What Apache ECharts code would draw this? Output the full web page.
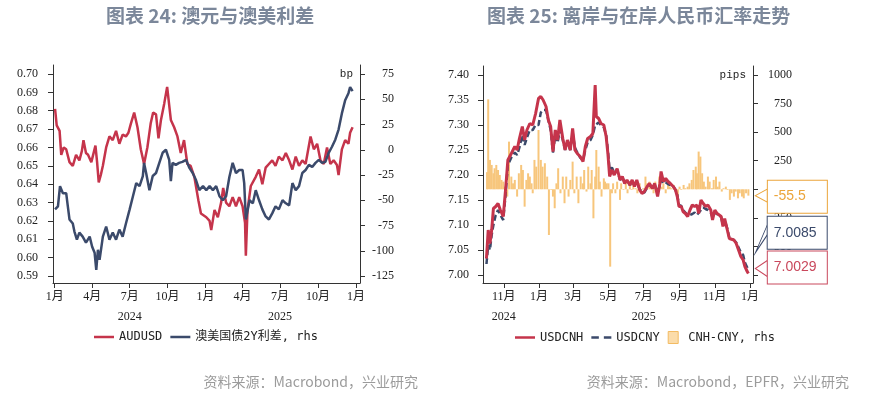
<!DOCTYPE html>
<html>
<head>
<meta charset="utf-8">
<script src="https://cdn.jsdelivr.net/npm/echarts@6/dist/echarts.min.js"></script>
<style>
html,body{margin:0;padding:0;background:#fff}
#main{width:870px;height:396px}
</style>
</head>
<body>
<div id="main"></div>
<script>
// 图表24：澳元与澳美利差
var audDates = ['2024-01-02','2024-01-06','2024-01-13','2024-01-17','2024-01-23','2024-01-29','2024-02-06','2024-02-14','2024-02-22','2024-03-01',
  '2024-03-07','2024-03-11','2024-03-17','2024-03-22','2024-03-30','2024-04-09','2024-04-13','2024-04-17','2024-04-22','2024-04-27',
  '2024-05-05','2024-05-13','2024-05-21','2024-05-29','2024-06-06','2024-06-14','2024-06-22','2024-06-28','2024-07-04','2024-07-12',
  '2024-07-20','2024-07-28','2024-08-05','2024-08-13','2024-08-21','2024-08-27','2024-09-03','2024-09-09','2024-09-15','2024-09-23',
  '2024-09-30','2024-10-09','2024-10-17','2024-10-25','2024-11-02','2024-11-10','2024-11-18','2024-11-26','2024-12-05','2024-12-15',
  '2024-12-21','2025-01-03','2025-01-11','2025-01-15','2025-01-23','2025-01-31','2025-02-08','2025-02-13','2025-02-20','2025-02-28',
  '2025-03-08','2025-03-16','2025-03-24','2025-04-01','2025-04-07','2025-04-09','2025-04-13','2025-04-21','2025-05-03','2025-05-11',
  '2025-05-19','2025-05-27','2025-06-04','2025-06-12','2025-06-20','2025-06-28','2025-07-07','2025-07-15','2025-07-23','2025-07-31',
  '2025-08-08','2025-08-16','2025-08-24','2025-09-01','2025-09-13','2025-09-21','2025-09-29','2025-10-07','2025-10-15','2025-10-23',
  '2025-10-31','2025-11-08','2025-11-16','2025-11-20','2025-11-28','2025-12-06','2025-12-14','2025-12-18','2025-12-24'];
var audusd = [0.681,0.672,0.669,0.656,0.660,0.659,0.652,0.650,0.656,0.653,
  0.658,0.664,0.657,0.656,0.652,0.661,0.652,0.641,0.645,0.650,
  0.660,0.666,0.664,0.669,0.662,0.667,0.666,0.668,0.673,0.679,
  0.671,0.659,0.651,0.660,0.673,0.679,0.678,0.665,0.675,0.684,
  0.693,0.675,0.671,0.666,0.657,0.664,0.651,0.650,0.644,0.631,
  0.624,0.622,0.620,0.615,0.626,0.622,0.630,0.638,0.630,0.628,
  0.633,0.628,0.633,0.628,0.619,0.601,0.626,0.639,0.644,0.648,
  0.640,0.649,0.651,0.653,0.650,0.655,0.653,0.657,0.653,0.648,
  0.655,0.650,0.653,0.651,0.666,0.659,0.662,0.653,0.651,0.660,
  0.651,0.653,0.6505,0.645,0.659,0.664,0.662,0.668,0.671];

var sprDates = ['2024-01-02','2024-01-09','2024-01-14','2024-01-21','2024-01-29','2024-02-02','2024-02-06','2024-02-14','2024-02-18','2024-02-24',
  '2024-03-01','2024-03-09','2024-03-17','2024-03-26','2024-04-01','2024-04-07','2024-04-11','2024-04-15','2024-04-19','2024-04-27',
  '2024-05-05','2024-05-13','2024-05-21','2024-05-29','2024-06-06','2024-06-14','2024-06-22','2024-07-01','2024-07-09','2024-07-17',
  '2024-07-25','2024-08-02','2024-08-05','2024-08-10','2024-08-18','2024-08-26','2024-09-03','2024-09-11','2024-09-19','2024-09-27',
  '2024-10-05','2024-10-09','2024-10-13','2024-10-21','2024-10-29','2024-11-06','2024-11-15','2024-11-23','2024-12-01','2024-12-09',
  '2024-12-17','2024-12-26','2025-01-03','2025-01-11','2025-01-19','2025-01-27','2025-02-04','2025-02-12','2025-02-20','2025-02-28',
  '2025-03-08','2025-03-16','2025-03-24','2025-04-01','2025-04-05','2025-04-09','2025-04-18','2025-04-26','2025-05-03','2025-05-11',
  '2025-05-19','2025-05-27','2025-06-04','2025-06-12','2025-06-20','2025-06-28','2025-07-07','2025-07-15','2025-07-23','2025-07-31',
  '2025-08-08','2025-08-16','2025-08-24','2025-09-01','2025-09-09','2025-09-17','2025-09-25','2025-10-03','2025-10-11','2025-10-19',
  '2025-10-27','2025-11-04','2025-11-12','2025-11-20','2025-11-28','2025-12-06','2025-12-14','2025-12-18','2025-12-24'];
var spread = [-59,-56,-36,-43,-43,-56,-69,-73,-81,-89,
  -82,-86,-92,-86,-96,-102,-119,-99,-109,-86,
  -76,-89,-82,-89,-79,-86,-73,-59,-46,-33,
  -36,-26,-13,-23,-40,-26,-23,-13,-3,0,
  -10,-31,-13,-15,-13,-12,-10,-18,-23,-30,
  -40,-36,-40,-36,-40,-36,-46,-50,-46,-27,
  -13,-23,-20,-20,-33,-69,-50,-53,-40,-50,
  -59,-66,-69,-63,-56,-59,-50,-53,-55,-33,
  -40,-36,-23,-20,-15,-17,-13,-10,-13,-12,
  -3,3,10,20,36,49,56,62,58];

// 图表25：离岸与在岸人民币汇率
var fxDates = ['2024-10-02','2024-10-05','2024-10-08','2024-10-11','2024-10-14','2024-10-18','2024-10-22','2024-10-26','2024-10-31',
  '2024-11-04','2024-11-08','2024-11-14','2024-11-20','2024-11-24','2024-11-28',
  '2024-12-03','2024-12-07','2024-12-11','2024-12-16','2024-12-21','2024-12-26','2024-12-31',
  '2025-01-04','2025-01-08','2025-01-13','2025-01-17','2025-01-21','2025-01-25','2025-01-29',
  '2025-02-02','2025-02-06','2025-02-11','2025-02-15','2025-02-19','2025-02-24','2025-02-28',
  '2025-03-04','2025-03-08','2025-03-13','2025-03-18','2025-03-22','2025-03-26','2025-03-31',
  '2025-04-04','2025-04-08','2025-04-10','2025-04-14','2025-04-18','2025-04-23','2025-04-27','2025-04-30',
  '2025-05-03','2025-05-07','2025-05-11','2025-05-16','2025-05-21','2025-05-25','2025-05-29',
  '2025-06-02','2025-06-07','2025-06-11','2025-06-15','2025-06-19','2025-06-24','2025-06-28',
  '2025-07-02','2025-07-07','2025-07-11','2025-07-16','2025-07-20','2025-07-25','2025-07-29','2025-07-31',
  '2025-08-04','2025-08-08','2025-08-12','2025-08-16','2025-08-21','2025-08-25','2025-08-28','2025-08-31',
  '2025-09-04','2025-09-07','2025-09-11','2025-09-15','2025-09-19','2025-09-23','2025-09-27',
  '2025-10-01','2025-10-04','2025-10-08','2025-10-12','2025-10-16','2025-10-20','2025-10-25','2025-10-28',
  '2025-11-01','2025-11-05','2025-11-08','2025-11-12','2025-11-15','2025-11-18','2025-11-22','2025-11-26','2025-11-29',
  '2025-12-04','2025-12-08','2025-12-12','2025-12-16','2025-12-20','2025-12-23','2025-12-27','2025-12-29'];
var usdcnh = [7.033,7.090,7.063,7.090,7.133,7.137,7.143,7.130,7.117,
  7.170,7.230,7.243,7.257,7.250,7.273,
  7.297,7.270,7.290,7.303,7.300,7.323,7.353,
  7.357,7.350,7.337,7.310,7.297,7.247,7.290,
  7.270,7.310,7.273,7.250,7.270,7.250,7.293,
  7.250,7.243,7.237,7.227,7.257,7.273,7.277,
  7.283,7.380,7.317,7.313,7.303,7.300,7.277,7.243,
  7.197,7.210,7.200,7.213,7.190,7.197,7.183,
  7.190,7.180,7.190,7.177,7.190,7.170,7.163,
  7.167,7.177,7.183,7.173,7.183,7.157,7.183,7.207,
  7.187,7.193,7.187,7.183,7.177,7.170,7.157,7.137,
  7.137,7.127,7.123,7.117,7.130,7.140,7.137,
  7.140,7.123,7.150,7.143,7.137,7.140,7.130,7.110,
  7.130,7.123,7.127,7.117,7.097,7.113,7.093,7.073,7.070,
  7.070,7.063,7.050,7.037,7.030,7.017,7.007,7.0029];
var usdcny = [7.022,7.060,7.050,7.080,7.100,7.120,7.130,7.120,7.110,
  7.160,7.220,7.235,7.245,7.240,7.255,
  7.280,7.260,7.275,7.290,7.290,7.300,7.300,
  7.325,7.330,7.330,7.310,7.290,7.245,7.280,
  7.265,7.290,7.270,7.250,7.265,7.250,7.285,
  7.255,7.245,7.235,7.230,7.250,7.265,7.270,
  7.280,7.300,7.300,7.305,7.300,7.295,7.280,7.250,
  7.210,7.215,7.205,7.210,7.190,7.195,7.185,
  7.190,7.180,7.185,7.180,7.185,7.172,7.165,
  7.165,7.175,7.180,7.175,7.180,7.165,7.180,7.190,
  7.183,7.185,7.182,7.180,7.178,7.170,7.160,7.140,
  7.138,7.130,7.125,7.120,7.120,7.122,7.125,
  7.120,7.120,7.130,7.135,7.132,7.130,7.125,7.115,
  7.125,7.122,7.125,7.115,7.100,7.110,7.095,7.075,7.072,
  7.070,7.065,7.055,7.045,7.040,7.025,7.015,7.0085];

var gapDates = ['2024-10-03','2024-10-05','2024-10-08','2024-10-11','2024-10-14','2024-10-16','2024-10-19','2024-10-22','2024-10-25','2024-10-28',
  '2024-10-31','2024-11-03','2024-11-07','2024-11-10','2024-11-14','2024-11-17','2024-11-20','2024-11-24','2024-11-27','2024-12-01',
  '2024-12-04','2024-12-07','2024-12-10','2024-12-13','2024-12-16','2024-12-19','2024-12-21','2024-12-24','2024-12-27','2024-12-31',
  '2025-01-04','2025-01-07','2025-01-11','2025-01-15','2025-01-18','2025-01-22','2025-01-25','2025-01-28','2025-01-31','2025-02-03',
  '2025-02-07','2025-02-11','2025-02-14','2025-02-17','2025-02-21','2025-02-24','2025-02-28','2025-03-03','2025-03-07','2025-03-10',
  '2025-03-14','2025-03-18','2025-03-20','2025-03-24','2025-03-27','2025-03-31','2025-04-02','2025-04-05','2025-04-08','2025-04-10',
  '2025-04-14','2025-04-16','2025-04-19','2025-04-23','2025-04-25','2025-04-28','2025-05-01','2025-05-04','2025-05-07','2025-05-09',
  '2025-05-13','2025-05-16','2025-05-21','2025-05-23','2025-05-27','2025-05-31','2025-06-03','2025-06-07','2025-06-10','2025-06-13',
  '2025-06-17','2025-06-20','2025-06-24','2025-06-27','2025-06-30','2025-07-04','2025-07-07','2025-07-11','2025-07-14','2025-07-18',
  '2025-07-21','2025-07-25','2025-07-28','2025-08-01','2025-08-04','2025-08-08','2025-08-12','2025-08-15','2025-08-18','2025-08-22',
  '2025-08-25','2025-08-29','2025-09-01','2025-09-04','2025-09-08','2025-09-11','2025-09-15','2025-09-18','2025-09-22','2025-09-25',
  '2025-09-29','2025-10-01','2025-10-04','2025-10-07','2025-10-10','2025-10-13','2025-10-16','2025-10-20','2025-10-23','2025-10-27',
  '2025-10-30','2025-11-03','2025-11-06','2025-11-09','2025-11-13','2025-11-16','2025-11-20','2025-11-23','2025-11-27','2025-11-30',
  '2025-12-04','2025-12-07','2025-12-11','2025-12-14','2025-12-18','2025-12-21','2025-12-25','2025-12-29'];
var cnhCny = [150,787,257,213,140,184,213,169,125,82,
  67,23,-64,417,111,52,82,-64,140,213,
  169,-152,82,140,111,52,-35,257,198,519,
  257,198,228,111,-400,-6,-64,-166,52,184,
  -35,111,-122,111,-64,82,242,-35,111,-122,
  111,52,169,-20,198,52,169,-254,111,344,
  198,67,-64,96,67,52,52,-677,-35,52,
  -35,67,-93,52,-6,67,-35,52,-6,52,
  9,-35,52,-6,9,111,52,67,23,-35,
  67,-6,111,23,52,-35,52,23,9,38,
  -6,-93,23,-6,38,9,23,52,82,169,
  198,140,330,286,140,67,23,111,67,9,
  82,111,23,67,-20,9,23,-6,-93,-35,
  -64,-20,-79,-35,-64,-79,-35,-55.5];

// 刻度
var leftMonthTicks = ['2024-01-01','2024-04-01','2024-07-01','2024-10-01','2025-01-01','2025-04-01','2025-07-01','2025-10-01','2026-01-01'];
var leftYearTicks = ['2024-07-01','2025-07-01'];
var rightMonthTicks = ['2024-11-01','2025-01-01','2025-03-01','2025-05-01','2025-07-01','2025-09-01','2025-11-01','2026-01-01'];
var rightYearTicks = ['2024-11-01','2025-07-01'];
var audTicks = [0.59,0.60,0.61,0.62,0.63,0.64,0.65,0.66,0.67,0.68,0.69,0.70];
var bpTicks = [-125,-100,-75,-50,-25,0,25,50,75];
var fxTicks = [7.00,7.05,7.10,7.15,7.20,7.25,7.30,7.35,7.40];
var pipsTicks = [-750,-500,-250,0,250,500,750,1000];

var RED = '#c5344b', NAVY = '#3b4a6b', ORANGE = '#f7c67c';
var AXIS = '#333';
var numFont = "'Liberation Serif','Noto Sans CJK SC'";
var legFont = "'DejaVu Sans Mono','Noto Sans CJK SC'";
var LINE_ICON = 'path://M0,0h24v3h-24z';
var DASH_ICON = 'path://M0,0h9v3h-9zM15,0h9v3h-9z';
var BOX_ICON = 'path://M0,0h10v12h-10z';

function ts(s){ var p = s.split('-'); return new Date(+p[0], +p[1]-1, +p[2]).getTime(); }
function zip(ds, vs){ return ds.map(function(d, i){ return [ts(d), vs[i]]; }); }
function monthFmt(v){ return (new Date(v).getMonth() + 1) + '月'; }
function yearFmt(v){ return String(new Date(v).getFullYear()); }

// x 轴用数值轴承载时间戳，刻度按月份自定义
function xMonth(grid, min, max, ticks){
  return {
    type:'value', gridIndex:grid, min:ts(min), max:ts(max), position:'bottom',
    axisLine:{show:true, onZero:false, lineStyle:{color:AXIS, width:1}},
    axisTick:{show:true, customValues:ticks.map(ts), length:5, lineStyle:{color:AXIS}},
    axisLabel:{customValues:ticks.map(ts), formatter:monthFmt, margin:8, fontSize:12, color:'#222', fontFamily:numFont, hideOverlap:false},
    splitLine:{show:false}
  };
}
function xYear(grid, min, max, ticks){
  return {
    type:'value', gridIndex:grid, min:ts(min), max:ts(max), position:'bottom', offset:20,
    axisLine:{show:false, onZero:false}, axisTick:{show:false},
    axisLabel:{customValues:ticks.map(ts), formatter:yearFmt, margin:8, fontSize:12, color:'#222', fontFamily:numFont},
    splitLine:{show:false}
  };
}
function yAx(grid, pos, min, max, ticks, digits, margin, align, name){
  var ax = {
    type:'value', gridIndex:grid, position:pos, min:min, max:max,
    axisLine:{show:true, onZero:false, lineStyle:{color:AXIS, width:1}},
    axisTick:{show:true, customValues:ticks, length:5, lineStyle:{color:AXIS}},
    axisLabel:{customValues:ticks, margin:margin, align:align, fontSize:12, color:'#222', fontFamily:numFont,
      formatter:function(v){ return v.toFixed(digits); }},
    splitLine:{show:false}
  };
  if (name) {
    ax.name = name;
    ax.nameLocation = 'end';
    ax.nameGap = -9;
    ax.nameTextStyle = {align:'right', verticalAlign:'middle', padding:[0,7,0,0], fontSize:11, color:'#222', fontFamily:"'Liberation Mono'"};
  }
  return ax;
}
// 末值标注框：三角形指针 + 白底描边文本框
function endMark(point, color, digits, ptr, ptrSize, ptrOffset, dy){
  return {
    symbol:ptr, symbolSize:ptrSize, symbolOffset:ptrOffset,
    itemStyle:{color:'#fff', borderColor:color, borderWidth:1},
    data:[{coord:point, value:point[1]}],
    label:{
      show:true, position:'right', distance:0, offset:[0, dy],
      formatter:function(p){ return p.value.toFixed(digits); },
      color:color, fontSize:14, fontFamily:"'Liberation Sans'", lineHeight:16,
      backgroundColor:'#fff', borderColor:color, borderWidth:1, padding:[8,6], width:47, align:'left'
    }
  };
}

var chart = echarts.init(document.getElementById('main'));
var lastCnh = zip(fxDates, usdcnh)[fxDates.length - 1];
var lastCny = zip(fxDates, usdcny)[fxDates.length - 1];
var lastGap = zip(gapDates, cnhCny)[gapDates.length - 1];
var NOTCH = 'path://M0,6L12,0L12,12Z';
var WEDGE = 'path://M0,28L12,0L12,10Z';

var option = {
  backgroundColor:'#fff',
  animation:false,
  title:[
    {text:'图表 24: 澳元与澳美利差', left:106, top:6, padding:0,
      textStyle:{color:'#7b879a', fontSize:19, fontWeight:'bold', fontFamily:'Noto Sans CJK SC'}},
    {text:'图表 25: 离岸与在岸人民币汇率走势', left:487, top:6, padding:0,
      textStyle:{color:'#7b879a', fontSize:19, fontWeight:'bold', fontFamily:'Noto Sans CJK SC'}},
    {text:'资料来源：Macrobond，兴业研究', right:452, top:375, padding:0,
      textStyle:{color:'#9b9b9b', fontSize:14, fontWeight:'normal', fontFamily:'Noto Sans CJK SC'}},
    {text:'资料来源：Macrobond，EPFR，兴业研究', right:21, top:375, padding:0,
      textStyle:{color:'#9b9b9b', fontSize:14, fontWeight:'normal', fontFamily:'Noto Sans CJK SC'}}
  ],
  legend:[
    {data:[{name:'AUDUSD', icon:LINE_ICON}, {name:'澳美国债2Y利差, rhs', icon:LINE_ICON}],
      left:89, top:326, itemWidth:20, itemHeight:12, itemGap:8,
      textStyle:{fontFamily:legFont, fontSize:12, color:'#222'}},
    {data:[{name:'USDCNH', icon:LINE_ICON}, {name:'USDCNY', icon:DASH_ICON},
        {name:'CNH-CNY, rhs', icon:BOX_ICON, itemStyle:{color:'#fbdcaa', borderColor:'#f3bb62', borderWidth:1}}],
      left:510, top:326, itemWidth:20, itemHeight:12, itemGap:8,
      textStyle:{fontFamily:legFont, fontSize:12, color:'#222'}}
  ],
  grid:[
    {left:53, top:65, width:307, height:218},
    {left:483, top:66, width:270, height:217}
  ],
  xAxis:[
    xMonth(0, '2023-12-28', '2026-01-11', leftMonthTicks),
    xYear(0, '2023-12-28', '2026-01-11', leftYearTicks),
    xMonth(1, '2024-09-26', '2026-01-06', rightMonthTicks),
    xYear(1, '2024-09-26', '2026-01-06', rightYearTicks)
  ],
  yAxis:[
    yAx(0, 'left', 0.5862, 0.7049, audTicks, 2, 15, 'right'),
    yAx(0, 'right', -131.9, 83.9, bpTicks, 0, 34, 'right', 'bp'),
    yAx(1, 'left', 6.984, 7.418, fxTicks, 2, 14, 'right'),
    yAx(1, 'right', -820, 1078.75, pipsTicks, 0, 39, 'right', 'pips')
  ],
  series:[
    {name:'AUDUSD', type:'line', xAxisIndex:0, yAxisIndex:0, symbol:'none',
      lineStyle:{color:RED, width:2.5}, itemStyle:{color:RED}, data:zip(audDates, audusd)},
    {name:'澳美国债2Y利差, rhs', type:'line', xAxisIndex:0, yAxisIndex:1, symbol:'none',
      lineStyle:{color:NAVY, width:2.5}, itemStyle:{color:NAVY}, data:zip(sprDates, spread)},
    {name:'CNH-CNY, rhs', type:'bar', xAxisIndex:2, yAxisIndex:3, barWidth:2,
      itemStyle:{color:ORANGE}, data:zip(gapDates, cnhCny),
      markPoint:endMark(lastGap, '#eba53b', 1, NOTCH, [12,13], [13,0], 1)},
    {name:'USDCNY', type:'line', xAxisIndex:2, yAxisIndex:2, symbol:'none',
      lineStyle:{color:NAVY, width:2.5, type:[6,3]}, itemStyle:{color:NAVY}, data:zip(fxDates, usdcny),
      markPoint:endMark(lastCny, NAVY, 4, WEDGE, [12,28], [13,-32], -6)},
    {name:'USDCNH', type:'line', xAxisIndex:2, yAxisIndex:2, symbol:'none',
      lineStyle:{color:RED, width:3}, itemStyle:{color:RED}, data:zip(fxDates, usdcnh),
      markPoint:endMark(lastCnh, '#c9485c', 4, NOTCH, [12,16], [13,-5], -1)}
  ]
};
chart.setOption(option);
</script>
</body>
</html>
